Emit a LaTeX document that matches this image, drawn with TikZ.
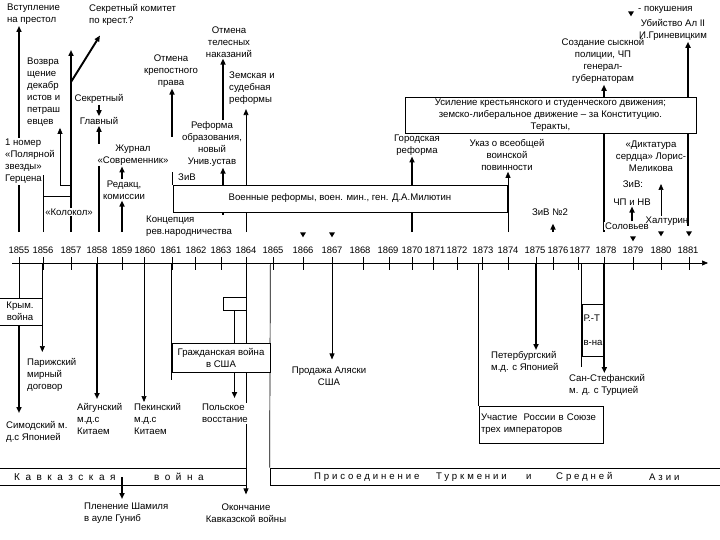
\documentclass[tikz,border=0pt]{standalone}
\usepackage{fontspec}
\setmainfont{Liberation Sans}
\usepackage{tikz}
\usetikzlibrary{arrows.meta, shapes.geometric, backgrounds, calc}
\tikzstyle{txt}    = [inner sep=1pt, font=\fontsize{9.6}{12}\selectfont, align=center]
\tikzstyle{txtl}   = [txt, align=left, anchor=north west]
\tikzstyle{wbg}    = [fill=white]
\tikzstyle{thk}    = [line width=1.9pt]
\tikzstyle{thn}    = [line width=0.7pt]
\tikzstyle{arr}    = [-{Triangle[length=6pt,width=5pt]}]
\tikzstyle{yrlbl}  = [inner sep=0pt, font=\fontsize{9.4}{10}\selectfont]
\tikzstyle{pok}    = [isosceles triangle, isosceles triangle stretches, shape border rotate=270,
                      fill=black, inner sep=0pt, minimum width=6pt, minimum height=5pt]
\tikzstyle{spaced} = [inner sep=0pt, anchor=west,
                      font=\fontsize{9.6}{10}\selectfont\addfontfeature{LetterSpace=30}]
\tikzstyle{band}   = [draw, thn, inner sep=0pt, minimum height=17]

\begin{document}
\begin{tikzpicture}[x=1pt, y=-1pt]
  \useasboundingbox (0,0) rectangle (720,540);

  % time axis
  \coordinate (ax0) at (12,263);
  \coordinate (ax1) at (708,263);
  \draw[thn, arr] (ax0) -- (ax1);
  \coordinate (up) at (0,232);
  \coordinate (dn) at (0,264);
  \foreach \yr/\xx/\lx in {1855/19/19,1856/43/43,1857/71/71,1858/97/97,1859/122/122,
      1860/144/145,1861/172/171,1862/195/196,1863/221/221,1864/246/246,1865/273/273,
      1866/303/303,1867/332/332,1868/363/360,1869/389/388,1870/412/412,1871/433/435,
      1872/457/457,1873/482/483,1874/508/508,1875/536/535,1876/553/558,1877/578/580,
      1878/604/606,1879/633/633,1880/661/661,1881/689/688}{
    \coordinate (y\yr) at (\xx,263);
    \draw[thn] (\xx,257) -- (\xx,270);
    \node[yrlbl] (l\yr) at (\lx,250) {\yr};
  }

  % --- above the axis ---
  \node[txtl] (vst) at (6,3) {Вступление\\на престол};
  \node[txtl] (sekr) at (88,3) {Секретный комитет\\по крест.?};
  \node[txtl] (vozv) at (26,57) {Возвра\\щение\\декабр\\истов и\\петраш\\евцев};
  \node[txtl] (nomer) at (4,138) {1 номер\\«Полярной\\звезды»\\Герцена};
  \node[txt, wbg] (kolok) at (69,212) {«Колокол»};
  \node[txt] (sek) at (99,99) {Секретный};
  \node[txt] (glav) at (99,121) {Главный};
  \node[txt, wbg] (zhurn) at (133,155) {Журнал\\«Современник»};
  \node[txt] (redk) at (124,190) {Редакц,\\комиссии};
  \node[txt] (otkr) at (171,71) {Отмена\\крепостного\\права};
  \node[txt] (otmtel) at (229,42) {Отмена\\телесных\\наказаний};
  \node[txt] (refobr) at (212,144) {Реформа\\образования,\\новый\\Унив.устав};
  \node[txtl] (zems) at (228,71) {Земская и\\судебная\\реформы};
  \node[txtl, wbg] (konc) at (145,215) {Концепция\\рев.народничества};
  \node[txt, draw, thn, fill=white, minimum width=334, minimum height=27] (voen) at (340,198.5)
    {Военные реформы, воен. мин., ген. Д.А.Милютин};
  \node[txt] (ziv) at (187,177) {ЗиВ};
  \node[txt] (gor) at (417,145) {Городская\\реформа};
  \node[txt] (ukaz) at (507,155) {Указ о всеобщей\\воинской\\повинности};
  \node[txt, draw, thn, fill=white, minimum width=291, minimum height=36] (usil) at (550.5,115)
    {Усиление крестьянского и студенческого движения;\\земско-либеральное движение -- за Конституцию.\\Теракты,};
  \node[txt] (sysk) at (603,61) {Создание сыскной\\полиции, ЧП\\генерал-\\губернаторам};
  \node[txt] (ubiy) at (673,30) {Убийство Ал II\\И.Гриневицким};
  \node[pok] (leg) at (631,13) {};
  \node[txt, anchor=west] (legt) at (637,10) {- покушения};
  \node[txt] (dikt) at (651,156) {«Диктатура\\сердца» Лорис-\\Меликова};
  \node[txt] (ziv2) at (633,184) {ЗиВ:};
  \node[txt] (chp) at (632,202) {ЧП и НВ};
  \node[txt, wbg] (solov) at (627,226) {Соловьев};
  \node[txt] (halt) at (667,221) {Халтурин};
  \node[txt] (ziv3) at (550,212) {ЗиВ №2};
  \foreach \pk/\xx/\yy in {1866/303/234, 1867/332/234, 1879/633/238, 1880/661/233, 1881/689/233}
    \node[pok] (p\pk) at (\xx,\yy) {};

  % --- below the axis ---
  \node[txt, draw, thn, minimum width=44, minimum height=27] (krym) at (20,311.5) {Крым.\\война};
  \node[txtl] (pariz) at (26,357) {Парижский\\мирный\\договор};
  \node[txtl] (simod) at (5,420) {Симодский м.\\д.с Японией};
  \node[txtl] (aigun) at (76,402) {Айгунский\\м.д.с\\Китаем};
  \node[txtl] (pekin) at (133,402) {Пекинский\\м.д.с\\Китаем};
  \node[txt, draw, thn, fill=white, minimum width=98, minimum height=29] (grazh) at (221,357.5)
    {Гражданская война\\в США};
  \node[draw, thn, inner sep=0pt, minimum width=23, minimum height=13] (polbr) at (234.5,303.5) {};
  \node[txtl, wbg] (polsk) at (201,403) {Польское\\восстание};
  \node[txt] (okon) at (246,513) {Окончание\\Кавказской войны};
  \node[band, minimum width=248] (kvband) at (122,476.5) {};
  \node[band, minimum width=452] (prband) at (496,476.5) {};
  \node[spaced, font=\addfontfeature{LetterSpace=55}] (kv1) at (14,477) {Кавказская};
  \node[spaced, font=\addfontfeature{LetterSpace=55}] (kv2) at (154,477) {война};
  \node[spaced] (pr1) at (314,477) {Присоединение};
  \node[spaced] (pr2) at (436,477) {Туркмении};
  \node[spaced] (pr3) at (526,477) {и};
  \node[spaced] (pr4) at (556,477) {Средней};
  \node[spaced] (pr5) at (649,477) {Азии};
  \node[txtl] (plen) at (83,502) {Пленение Шамиля\\в ауле Гуниб};
  \node[txt] (alask) at (329,376) {Продажа Аляски\\США};
  \node[txt, draw, thn, align=left, text width=120, inner sep=2pt, minimum height=37] (soyuz) at (541,424.5)
    {Участие\ \ России в Союзе\\трех императоров};
  \node[txtl] (peterb) at (490,350) {Петербургский\\м.д. с Японией};
  \node[txt, draw, thn, align=left, minimum width=22, minimum height=52] (rtbox) at (593,330)
    {Р.-Т\\[12pt]в-на};
  \node[txtl] (sanst) at (568,373) {Сан-Стефанский\\м. д. с Турцией};

  \begin{scope}[on background layer]
    % connectors above
    \draw[thk] (y1855 |- up) -- (y1855 |- nomer.south);
    \draw[thk, arr] (y1855 |- nomer.north) -- (y1855 |- vst.south);
    \coordinate (kb) at (43,196);
    \draw[thn] (y1856 |- up) -- (43,175);
    \draw[thn] (kb) -- (kb -| y1857);
    \coordinate (vz) at (60,185);
    \draw[thn, arr] (vz) -- (vz |- vozv.south);
    \draw[thn] (vz) -- (vz -| y1857);
    \coordinate (k57) at (71,50);
    \draw[thk, arr] (y1857 |- up) -- (k57);
    \coordinate (dg) at (71,82);
    \draw[thk, arr] (dg) -- ($(sekr.south west)+(12,9)$);
    \draw[thk, arr] (sek.south) -- (glav.north);
    \draw[thk, arr] (glav.south |- up) -- (glav.south);
    \draw[thk, arr] (y1859 |- redk.north) -- (y1859 |- zhurn.south);
    \draw[thk, arr] (y1859 |- up) -- (y1859 |- redk.south);
    \coordinate (k61) at (172,137);
    \draw[thk, arr] (k61) -- (k61 |- otkr.south);
    \draw[thn] (voen.north west) -- ($(voen.north west)+(0,-13)$);
    \coordinate (k63) at (223,232);
    \draw[thk, arr] (k63) -- (k63 |- refobr.south);
    \draw[thk, arr] (k63 |- refobr.north) -- (k63 |- otmtel.south);
    \draw[thn, arr] (y1864 |- up) -- ($(y1864 |- zems.south)+(0,3)$);
    \draw[thk, arr] (y1870 |- up) -- (y1870 |- gor.south);
    \draw[thn, arr] (y1874 |- up) -- (y1874 |- ukaz.south);
    \draw[thk, arr] (y1876 |- up) -- ($(y1876 |- ziv3.south)+(0,7)$);
    \draw[thk, arr] (y1878 |- up) -- (y1878 |- sysk.south);
    \draw[thk, arr] (chp.south |- solov.north) -- (chp.south);
    \draw[thn, arr] (y1880 |- halt.north) -- (y1880 |- ziv2);
    \coordinate (k81) at (688,226);
    \draw[thk, arr] (k81) -- (k81 |- ubiy.south);

    % connectors below
    \draw[thn] (y1855 |- dn) -- (y1855 |- krym.north);
    \draw[thk, arr, shorten >=7pt] (y1855 |- krym.south) -- (y1855 |- simod.north);
    \draw[thn, arr, shorten >=5pt] (krym.north east |- dn) -- (krym.east |- pariz.north);
    \draw[thk, arr, shorten >=3pt] (y1858 |- dn) -- (y1858 |- aigun.north);
    \draw[thn, arr] (y1860 |- dn) -- (y1860 |- pekin.north);
    \draw[thn] (grazh.north west |- dn) -- ($(grazh.south west)+(0,8)$);
    \draw[thk, arr, shorten >=5pt] (polbr.south) -- (polbr.south |- polsk.north);
    \draw[thn, arr, shorten >=8pt] (y1864 |- dn) -- (y1864 |- okon.north);
    \draw[thn] (grazh.north east |- dn) -- (prband.north west);
    \coordinate (kvx) at (122,477);
    \draw[thk, arr, shorten >=3pt] (kvx) -- (kvx |- plen.north);
    \draw[thn, arr, shorten >=6pt] (y1867 |- dn) -- (y1867 |- alask.north);
    \draw[thn] (soyuz.north west |- dn) -- (soyuz.north west);
    \draw[thk, arr] (y1875 |- dn) -- (y1875 |- peterb.north);
    \draw[thn] (rtbox.north west |- dn) -- ($(rtbox.south west)+(0,11)$);
    \draw[thk, arr] (rtbox.north east |- dn) -- (rtbox.north east |- sanst.north);
  \end{scope}
\end{tikzpicture}
\end{document}
